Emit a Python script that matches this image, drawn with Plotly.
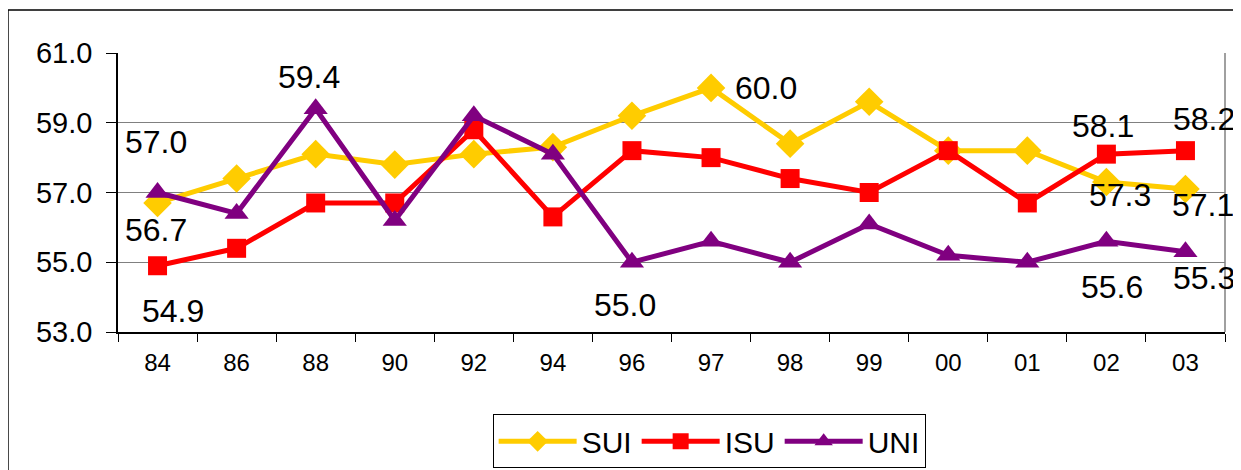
import plotly.graph_objects as go

categories = ["84", "86", "88", "90", "92", "94", "96", "97", "98", "99", "00", "01", "02", "03"]
sui = [56.7, 57.4, 58.1, 57.8, 58.1, 58.3, 59.2, 60.0, 58.4, 59.6, 58.2, 58.2, 57.3, 57.1]
isu = [54.9, 55.4, 56.7, 56.7, 58.8, 56.3, 58.2, 58.0, 57.4, 57.0, 58.2, 56.7, 58.1, 58.2]
uni = [57.0, 56.4, 59.4, 56.2, 59.2, 58.1, 55.0, 55.6, 55.0, 56.1, 55.2, 55.0, 55.6, 55.3]

y_ticks = [53.0, 55.0, 57.0, 59.0, 61.0]

# labelled points: (series, category index, xshift, yshift)
labels = [
    ("SUI", 0, -2, -27), ("SUI", 7, 55, 0), ("SUI", 12, 14, -13), ("SUI", 13, 18, -16),
    ("ISU", 0, 15, -45), ("ISU", 12, -3, 28), ("ISU", 13, 19, 32),
    ("UNI", 0, -2, 51), ("UNI", 2, -7, 32), ("UNI", 6, -7, -43), ("UNI", 12, 6, -46), ("UNI", 13, 19, -26),
]

series = {"SUI": sui, "ISU": isu, "UNI": uni}
styles = {
    "SUI": dict(color="#FFCC00", symbol="diamond", size=22),
    "ISU": dict(color="#FF0000", symbol="square", size=19),
    "UNI": dict(color="#800080", symbol="triangle-up", size=21),
}

fig = go.Figure()
for name, vals in series.items():
    st = styles[name]
    fig.add_trace(go.Scatter(
        x=categories, y=vals, name=name, mode="lines+markers",
        line=dict(color=st["color"], width=5),
        marker=dict(symbol=st["symbol"], size=st["size"], color=st["color"], line=dict(width=0)),
    ))

for name, idx, dx, dy in labels:
    v = series[name][idx]
    fig.add_annotation(x=idx, y=v, text=f"{v:.1f}", showarrow=False,
                       xshift=dx, yshift=dy, font=dict(size=32, color="black", family="Liberation Sans, Arial"))

# outer chart frame
fig.add_shape(type="rect", xref="paper", yref="paper", x0=-0.0994, x1=1.0108, y0=-0.7, y1=1.154,
              line=dict(color="black", width=1.5), layer="below")
# plot area border (right side gray)
fig.add_shape(type="line", xref="paper", yref="paper", x0=1, x1=1, y0=0, y1=1,
              line=dict(color="#808080", width=1.5), layer="below")

fig.update_layout(
    width=1241, height=470,
    margin=dict(l=110, r=24, t=45, b=146, autoexpand=False),
    paper_bgcolor="white", plot_bgcolor="white",
    font=dict(family="Liberation Sans, Arial", color="black"),
    showlegend=True,
    legend=dict(orientation="h", x=0.534, xanchor="center", y=-0.295, yanchor="top",
                bordercolor="black", borderwidth=1, font=dict(size=30),
                itemwidth=78, tracegroupgap=0),
    xaxis=dict(type="category", tickson="boundaries", ticks="outside", ticklen=8, tickcolor="black",
               showline=True, linecolor="black", linewidth=1.5, showgrid=False, automargin=False,
               tickfont=dict(size=24), range=[-0.5, 13.5], ticklabelstandoff=8),
    yaxis=dict(range=[53, 61], tickvals=y_ticks, ticktext=[f"{t:.1f}" for t in y_ticks],
               ticks="outside", ticklen=10, tickcolor="black", automargin=False,
               showline=True, linecolor="black", linewidth=1.5,
               showgrid=True, gridcolor="#808080", gridwidth=1, zeroline=False,
               tickfont=dict(size=29), ticklabelstandoff=8),
)

fig.write_html("out.html")
